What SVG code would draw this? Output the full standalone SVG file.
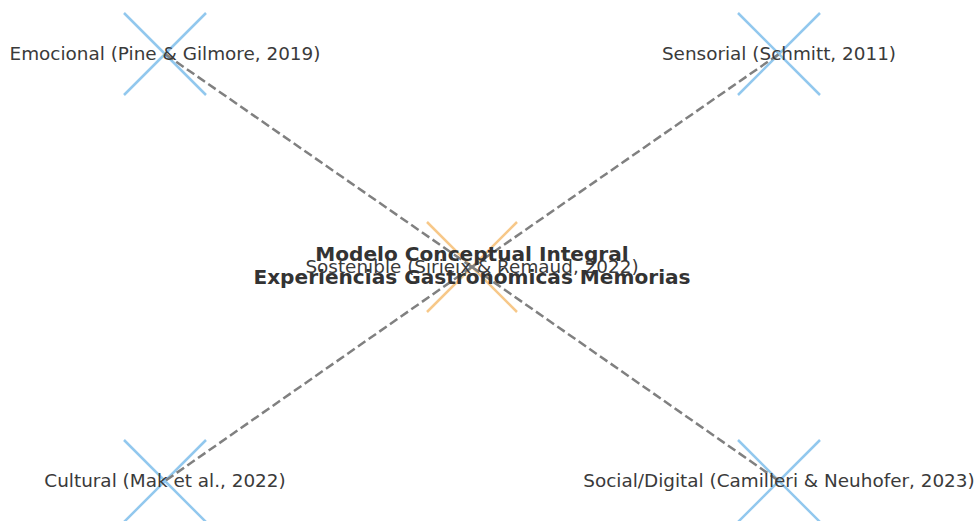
<svg xmlns="http://www.w3.org/2000/svg" width="976" height="521" viewBox="0 0 976 521">
  <style>
    .edge { stroke: #808080; stroke-width: 2.5; stroke-dasharray: 9 4; fill: none; }
    .mk { stroke-width: 2.5; fill: none; opacity: 0.6; }
    .blue { stroke: #4aa3e3; }
    .orange { stroke: #f2a43a; }
    .lbl { font-family: "DejaVu Sans", sans-serif; font-size: 18.4px; fill: #3a3a3a; text-anchor: middle; }
    .title { font-family: "DejaVu Sans", sans-serif; font-size: 20.1px; font-weight: bold; fill: #333333; text-anchor: middle; }
  </style>
  <rect width="976" height="521" fill="#ffffff"/>
  <g id="center-node">
    <path class="mk orange" d="M427 222 L517 312 M427 312 L517 222"/>
  </g>
  <g id="emocional">
    <path class="mk blue" d="M124 13 L206 95 M124 95 L206 13"/>
  </g>
  <g id="sensorial">
    <path class="mk blue" d="M738 13 L820 95 M738 95 L820 13"/>
  </g>
  <g id="cultural">
    <path class="mk blue" d="M124 440 L206 522 M124 522 L206 440"/>
  </g>
  <g id="social-digital">
    <path class="mk blue" d="M738 440 L820 522 M738 522 L820 440"/>
  </g>
  <g id="connectors">
    <line class="edge" x1="472" y1="267" x2="165" y2="54"/>
    <line class="edge" x1="472" y1="267" x2="779" y2="54"/>
    <line class="edge" x1="472" y1="267" x2="165" y2="481"/>
    <line class="edge" x1="472" y1="267" x2="779" y2="481"/>
  </g>
  <g id="labels">
    <text class="lbl" x="165" y="60">Emocional (Pine &amp; Gilmore, 2019)</text>
    <text class="lbl" x="779" y="60">Sensorial (Schmitt, 2011)</text>
    <text class="lbl" x="165" y="487">Cultural (Mak et al., 2022)</text>
    <text class="lbl" x="779" y="487">Social/Digital (Camilleri &amp; Neuhofer, 2023)</text>
    <text class="lbl" x="472" y="273">Sostenible (Sirieix &amp; Remaud, 2022)</text>
    <text class="title" x="472" y="261">Modelo Conceptual Integral</text>
    <text class="title" x="472" y="284">Experiencias Gastronómicas Memorias</text>
  </g>
</svg>
